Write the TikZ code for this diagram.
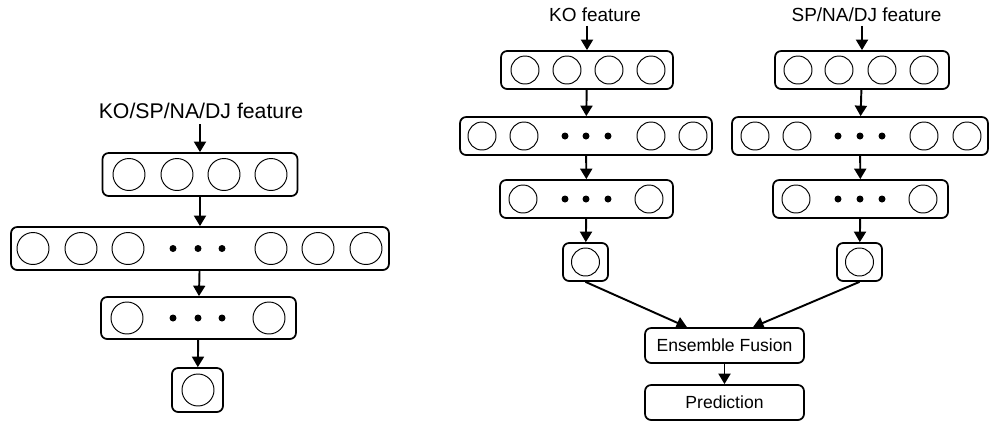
\documentclass[tikz,border=0pt]{standalone}
\usepackage{fontspec}
\setmainfont{Liberation Sans}
\usetikzlibrary{arrows.meta}

\begin{document}
\begin{tikzpicture}[x=0.02cm, y=-0.02cm,
    layer/.style={draw, line width=1pt, rounded corners=3.5pt, inner sep=0pt},
    unit/.style={draw, circle, line width=0.55pt, inner sep=0pt, minimum size=0.56cm},
    bigunit/.style={unit, minimum size=0.64cm},
    dot/.style={fill, circle, inner sep=0pt, minimum size=0.14cm},
    flow/.style={-{Triangle[length=0.21cm, width=0.24cm]}, line width=1.1pt},
    stage/.style={draw, line width=1pt, rounded corners=3.5pt, minimum width=3.18cm,
                  minimum height=0.7cm, font=\fontsize{10}{12}\selectfont}]
  \useasboundingbox (0,0) rectangle (992,424);

  % single network (left)
  \node[font=\fontsize{12.1}{14}\selectfont, inner ysep=3pt] (lin) at (201,111) {KO/SP/NA/DJ feature};
  \node[layer, minimum width=3.9cm, minimum height=0.86cm] (l1) at (200,174.5) {};
  \node[layer, minimum width=7.56cm, minimum height=0.86cm] (l2) at (200,248.5) {};
  \node[layer, minimum width=3.9cm, minimum height=0.84cm] (l3) at (198.5,318) {};
  \node[layer, minimum width=1.02cm, minimum height=0.88cm] (l4) at (197.5,390) {};
  \foreach \x in {129,177,224,271} \node[bigunit] at (\x,174.5) {};
  \foreach \x in {33,81,128,271,318,366} \node[bigunit] at (\x,248.5) {};
  \foreach \x in {127,269} \node[bigunit] at (\x,318) {};
  \node[bigunit] at (198,390) {};
  \foreach \x in {173,198,222} {
    \node[dot] at (\x,248.5) {};
    \node[dot] at (\x,318) {};
  }
  \draw[flow] (lin.south -| l1) -- (l1);
  \draw[flow] (l1) -- (l2);
  \draw[flow] (l2) -- (l3);
  \draw[flow] (l3) -- (l4);

  % KO network
  \node[font=\fontsize{10.8}{13}\selectfont, inner ysep=2pt] (kin) at (595,15) {KO feature};
  \node[layer, minimum width=3.44cm, minimum height=0.76cm] (k1) at (587,70) {};
  \node[layer, minimum width=5.04cm, minimum height=0.76cm] (k2) at (586,136) {};
  \node[layer, minimum width=3.46cm, minimum height=0.76cm] (k3) at (586.5,199) {};
  \node[layer, minimum width=0.9cm, minimum height=0.76cm] (k4) at (585.5,262) {};
  \foreach \x in {525,567,609,651} \node[unit] at (\x,70) {};
  \foreach \x in {482,524,651,693} \node[unit] at (\x,136) {};
  \foreach \x in {523,649} \node[unit] at (\x,199) {};
  \node[unit] at (585.5,262) {};
  \foreach \x in {565,586,608} {
    \node[dot] at (\x,136) {};
    \node[dot] at (\x,199) {};
  }
  \draw[flow] (kin.south -| k1) -- (k1);
  \draw[flow] (k1) -- (k2);
  \draw[flow] (k2) -- (k3);
  \draw[flow] (k3) -- (k4);

  % SP/NA/DJ network
  \node[font=\fontsize{10.8}{13}\selectfont, inner ysep=2pt] (sin) at (866.5,15) {SP/NA/DJ feature};
  \node[layer, minimum width=3.48cm, minimum height=0.76cm] (s1) at (862,70) {};
  \node[layer, minimum width=5.12cm, minimum height=0.76cm] (s2) at (860,136) {};
  \node[layer, minimum width=3.5cm, minimum height=0.76cm] (s3) at (860.5,199) {};
  \node[layer, minimum width=0.9cm, minimum height=0.76cm] (s4) at (859.5,262) {};
  \foreach \x in {798,839,882,924} \node[unit] at (\x,70) {};
  \foreach \x in {755,797,924,967} \node[unit] at (\x,136) {};
  \foreach \x in {796,923} \node[unit] at (\x,199) {};
  \node[unit] at (859.5,262) {};
  \foreach \x in {838,860,882} {
    \node[dot] at (\x,136) {};
    \node[dot] at (\x,199) {};
  }
  \draw[flow] (sin.south -| s1) -- (s1);
  \draw[flow] (s1) -- (s2);
  \draw[flow] (s2) -- (s3);
  \draw[flow] (s3) -- (s4);

  % fusion
  \node[stage] (fus) at (724.5,345.5) {Ensemble Fusion};
  \node[stage] (pred) at (724.5,402.5) {Prediction};
  \draw[flow] (k4.south) -- ([xshift=-0.75cm]fus.north);
  \draw[flow] (s4.south) -- ([xshift=0.57cm]fus.north);
  \draw[flow] (fus) -- (pred);
\end{tikzpicture}
\end{document}
